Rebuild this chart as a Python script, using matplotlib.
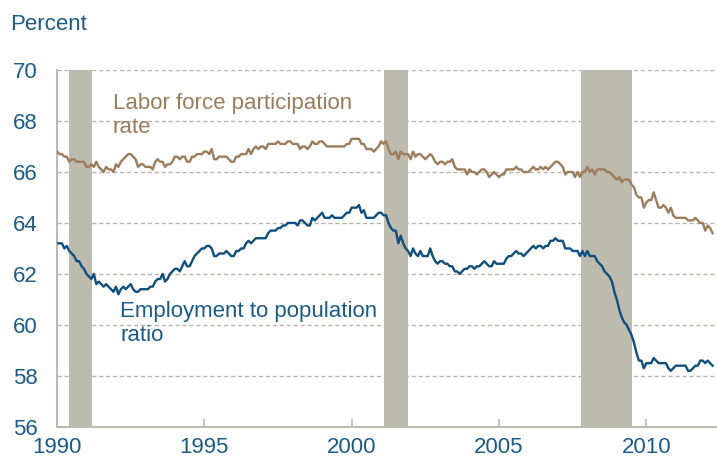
import numpy as np
import matplotlib.pyplot as plt

# ── Data (monthly, Jan 1990 - Apr 2012) ──
lfpr = [
    66.8, 66.7, 66.7, 66.6, 66.6, 66.4, 66.5, 66.5, 66.4, 66.4, 66.4, 66.4,  # 1990
    66.2, 66.2, 66.3, 66.2, 66.4, 66.2, 66.1, 66.0, 66.2, 66.1, 66.1, 66.0,  # 1991
    66.3, 66.2, 66.4, 66.5, 66.6, 66.7, 66.7, 66.6, 66.5, 66.2, 66.3, 66.3,  # 1992
    66.2, 66.2, 66.2, 66.1, 66.4, 66.5, 66.4, 66.4, 66.2, 66.3, 66.3, 66.4,  # 1993
    66.6, 66.6, 66.5, 66.6, 66.6, 66.4, 66.4, 66.6, 66.6, 66.7, 66.7, 66.7,  # 1994
    66.8, 66.8, 66.7, 66.9, 66.5, 66.5, 66.6, 66.6, 66.6, 66.6, 66.5, 66.4,  # 1995
    66.4, 66.6, 66.6, 66.7, 66.7, 66.7, 66.9, 66.7, 66.9, 67.0, 66.9, 67.0,  # 1996
    67.0, 66.9, 67.1, 67.1, 67.1, 67.1, 67.2, 67.1, 67.1, 67.1, 67.2, 67.2,  # 1997
    67.1, 67.1, 67.1, 66.9, 67.0, 67.0, 66.9, 67.0, 67.2, 67.1, 67.1, 67.2,  # 1998
    67.2, 67.1, 67.0, 67.0, 67.0, 67.0, 67.0, 67.0, 67.0, 67.0, 67.1, 67.1,  # 1999
    67.3, 67.3, 67.3, 67.3, 67.1, 67.1, 66.9, 66.9, 66.9, 66.8, 66.9, 67.0,  # 2000
    67.2, 67.1, 67.2, 66.9, 66.7, 66.7, 66.8, 66.5, 66.8, 66.7, 66.7, 66.7,  # 2001
    66.5, 66.8, 66.6, 66.7, 66.7, 66.6, 66.5, 66.6, 66.7, 66.6, 66.4, 66.3,  # 2002
    66.4, 66.4, 66.3, 66.4, 66.4, 66.5, 66.2, 66.1, 66.1, 66.1, 66.1, 65.9,  # 2003
    66.1, 66.0, 66.0, 65.9, 66.0, 66.1, 66.1, 66.0, 65.8, 65.9, 66.0, 65.9,  # 2004
    65.8, 65.9, 65.9, 66.1, 66.1, 66.1, 66.1, 66.2, 66.1, 66.1, 66.0, 66.0,  # 2005
    66.0, 66.1, 66.2, 66.1, 66.1, 66.2, 66.1, 66.2, 66.1, 66.2, 66.3, 66.4,  # 2006
    66.4, 66.3, 66.2, 65.9, 66.0, 66.0, 66.0, 65.8, 66.0, 65.8, 66.0, 66.0,  # 2007
    66.2, 66.0, 66.1, 65.9, 66.1, 66.1, 66.1, 66.1, 66.0, 66.0, 65.9, 65.8,  # 2008
    65.7, 65.8, 65.6, 65.7, 65.7, 65.7, 65.5, 65.4, 65.1, 65.0, 65.0, 64.6,  # 2009
    64.8, 64.9, 64.9, 65.2, 64.9, 64.6, 64.6, 64.7, 64.6, 64.4, 64.6, 64.3,  # 2010
    64.2, 64.2, 64.2, 64.2, 64.2, 64.1, 64.1, 64.1, 64.2, 64.1, 64.0, 64.0,  # 2011
    63.7, 63.9, 63.8, 63.6,                                                  # 2012
]

epop = [
    63.2, 63.2, 63.2, 63.0, 63.1, 62.9, 62.8, 62.7, 62.5, 62.5, 62.3, 62.2,  # 1990
    62.0, 61.9, 61.8, 62.0, 61.6, 61.7, 61.6, 61.5, 61.6, 61.5, 61.4, 61.3,  # 1991
    61.5, 61.2, 61.4, 61.5, 61.4, 61.5, 61.6, 61.4, 61.3, 61.3, 61.4, 61.4,  # 1992
    61.4, 61.4, 61.5, 61.5, 61.7, 61.8, 61.8, 62.0, 61.7, 61.8, 62.0, 62.1,  # 1993
    62.2, 62.2, 62.1, 62.3, 62.5, 62.3, 62.3, 62.5, 62.7, 62.8, 62.9, 63.0,  # 1994
    63.0, 63.1, 63.1, 63.0, 62.7, 62.7, 62.8, 62.8, 62.8, 62.9, 62.8, 62.7,  # 1995
    62.7, 62.9, 62.9, 63.0, 63.0, 63.2, 63.3, 63.2, 63.3, 63.4, 63.4, 63.4,  # 1996
    63.4, 63.4, 63.6, 63.7, 63.7, 63.7, 63.8, 63.8, 63.9, 63.9, 64.0, 64.0,  # 1997
    64.0, 64.0, 63.9, 64.1, 64.1, 64.0, 63.9, 63.9, 64.2, 64.1, 64.2, 64.3,  # 1998
    64.4, 64.2, 64.2, 64.2, 64.3, 64.2, 64.2, 64.2, 64.2, 64.3, 64.4, 64.4,  # 1999
    64.6, 64.6, 64.6, 64.7, 64.4, 64.5, 64.2, 64.2, 64.2, 64.2, 64.3, 64.4,  # 2000
    64.4, 64.3, 64.3, 64.0, 63.8, 63.7, 63.7, 63.2, 63.5, 63.2, 63.0, 62.9,  # 2001
    62.7, 63.0, 62.8, 62.7, 62.9, 62.7, 62.7, 62.7, 63.0, 62.7, 62.5, 62.4,  # 2002
    62.5, 62.5, 62.4, 62.4, 62.3, 62.3, 62.1, 62.1, 62.0, 62.1, 62.2, 62.2,  # 2003
    62.3, 62.3, 62.2, 62.3, 62.3, 62.4, 62.5, 62.4, 62.3, 62.3, 62.5, 62.4,  # 2004
    62.4, 62.4, 62.4, 62.6, 62.7, 62.7, 62.8, 62.9, 62.8, 62.8, 62.7, 62.8,  # 2005
    62.9, 63.0, 63.1, 63.0, 63.1, 63.1, 63.0, 63.1, 63.1, 63.3, 63.3, 63.4,  # 2006
    63.3, 63.3, 63.3, 63.0, 63.0, 63.0, 62.9, 62.9, 62.9, 62.7, 62.9, 62.7,  # 2007
    62.9, 62.7, 62.7, 62.7, 62.5, 62.4, 62.3, 62.1, 62.0, 61.9, 61.7, 61.3,  # 2008
    61.0, 60.6, 60.3, 60.1, 60.0, 59.8, 59.6, 59.3, 58.9, 58.6, 58.6, 58.3,  # 2009
    58.5, 58.5, 58.5, 58.7, 58.6, 58.5, 58.5, 58.5, 58.5, 58.3, 58.2, 58.3,  # 2010
    58.4, 58.4, 58.4, 58.4, 58.4, 58.2, 58.2, 58.3, 58.4, 58.4, 58.6, 58.6,  # 2011
    58.5, 58.6, 58.5, 58.4,                                                  # 2012
]

recessions = [(1990.4, 1991.2), (2001.1, 2001.9), (2007.8, 2009.5)]
x_ticks = [1990, 1995, 2000, 2005, 2010]
y_ticks = [56, 58, 60, 62, 64, 66, 68, 70]

# ── Colours ──
blue = "#0f4f7c"
text_blue = "#1b5b88"
brown = "#9b7c5c"
shade = "#bdbaae"
grey = "#bdbaae"

plt.rcParams["font.family"] = ["Liberation Sans", "DejaVu Sans"]
fs = 16

months = 1990 + np.arange(len(lfpr)) / 12

fig = plt.figure(figsize=(7.17, 4.59), dpi=100)
ax = fig.add_axes([0.0795, 0.07, 0.9205, 0.7775])

for start, end in recessions:
    ax.axvspan(start, end, color=shade, lw=0, zorder=1)

for y in y_ticks[1:]:
    ax.axhline(y, color="#b8b5aa", lw=1, ls=(0, (3, 2)), zorder=0)

ax.plot(months, lfpr, color=brown, lw=1.7, zorder=3)
ax.plot(months, epop, color=blue, lw=1.7, zorder=3)

ax.set_xlim(1990, 2012.4)
ax.set_ylim(56, 70)
ax.set_xticks(x_ticks)
ax.set_yticks(y_ticks)

for side in ["top", "right"]:
    ax.spines[side].set_visible(False)
for side in ["left", "bottom"]:
    ax.spines[side].set_color(grey)
    ax.spines[side].set_linewidth(1.5)

ax.tick_params(axis="x", direction="in", length=6, width=1.2, color=grey,
               labelsize=fs, labelcolor=text_blue, pad=7)
ax.tick_params(axis="y", length=0, labelsize=fs, labelcolor=text_blue, pad=14)

ax.text(1991.9, 69.1, "Labor force participation\nrate", color=brown,
        fontsize=fs, va="top", ha="left", linespacing=1.2, zorder=4)
ax.text(1992.15, 60.95, "Employment to population\nratio", color=text_blue,
        fontsize=fs, va="top", ha="left", linespacing=1.2, zorder=4)

fig.text(10 / 717, 1 - 24 / 459, "Percent", color=text_blue, fontsize=fs,
         va="center", ha="left")

fig.savefig("out.png", dpi=100)
